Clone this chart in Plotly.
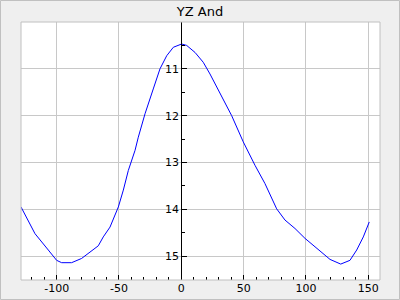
import plotly.graph_objects as go

title = "YZ And"
phase = [-128.6, -117.4, -106.7, -100, -96, -88, -80, -73.2, -66.6, -62.6, -57.2, -50.5,
         -46.5, -42.5, -39.8, -37.1, -34.5, -29.1, -22.5, -17.1, -11.7, -6.4, 0.3, 4.3, 11,
         17.6, 23, 31, 40.4, 49.7, 59.1, 67.1, 76.5, 83.2, 91.2, 99.2, 107.2, 119.3, 127.9,
         135.3, 140.7, 146, 150.8]
mag = [13.95, 14.52, 14.87, 15.09, 15.14, 15.14, 15.05, 14.91, 14.78, 14.59, 14.38, 13.95,
       13.59, 13.17, 12.96, 12.74, 12.46, 11.96, 11.43, 11.0, 10.72, 10.54, 10.47, 10.50, 10.65,
       10.86, 11.11, 11.53, 12.0, 12.56, 13.06, 13.45, 13.99, 14.23, 14.41, 14.62, 14.80, 15.07,
       15.17, 15.09, 14.87, 14.59, 14.27]
x_range = [-128.6, 159.4]
y_range = [15.51, 10.0]
x_ticks = [-100, -50, 0, 50, 100, 150]
x_tick_labels = ["-100", "-50", "0", "50", "100", "150"]
y_ticks = [11, 12, 13, 14, 15]
y_tick_labels = ["11", "12", "13", "14", "15"]

W, H = 400, 300
ml, mr, mt, mb = 21, 20, 22, 20
pw, ph = W - ml - mr, H - mt - mb

fig = go.Figure()
fig.add_trace(go.Scatter(x=phase, y=mag, mode="lines",
                         line=dict(color="#0000ff", width=1), showlegend=False,
                         hoverinfo="skip"))

ypos = (0 - x_range[0]) / (x_range[1] - x_range[0])

fig.update_layout(
    width=W, height=H,
    margin=dict(l=ml, r=mr, t=mt, b=mb, pad=0, autoexpand=False),
    paper_bgcolor="#efefef", plot_bgcolor="#ffffff",
    font=dict(family="DejaVu Sans", size=11, color="#000000"),
    title=dict(text=title, x=0.5, xanchor="center", y=1 - 11 / H, yanchor="middle",
               font=dict(size=13, color="#000000")),
    xaxis=dict(range=x_range, tickvals=x_ticks, ticktext=x_tick_labels, ticks="inside",
               ticklen=5, tickcolor="#000000", automargin=False,
               showgrid=True, gridcolor="#c8c8c8", gridwidth=1, zeroline=False,
               showline=False,
               minor=dict(dtick=10, tick0=0, ticks="inside", ticklen=3, tickcolor="#000000",
                          showgrid=False)),
    yaxis=dict(range=y_range, tickvals=y_ticks, ticktext=y_tick_labels, ticks="inside",
               ticklen=5, tickcolor="#000000", automargin=False,
               anchor="free", position=ypos, showline=True, linecolor="#000000", linewidth=1,
               showgrid=True, gridcolor="#c8c8c8", gridwidth=1, zeroline=False,
               minor=dict(dtick=0.5, tick0=0, ticks="inside", ticklen=3, tickcolor="#000000",
                          showgrid=False)),
    shapes=[
        dict(type="rect", xref="paper", yref="paper", x0=0, x1=1, y0=0, y1=1,
             line=dict(color="#c0c0c0", width=1), layer="above"),
        dict(type="rect", xref="paper", yref="paper",
             x0=(-ml + 0.5) / pw, x1=1 + (mr - 0.5) / pw,
             y0=(-mb + 0.5) / ph, y1=1 + (mt - 0.5) / ph,
             line=dict(color="#c0c0c0", width=1), layer="below"),
    ],
)

fig.write_html("out.html")
